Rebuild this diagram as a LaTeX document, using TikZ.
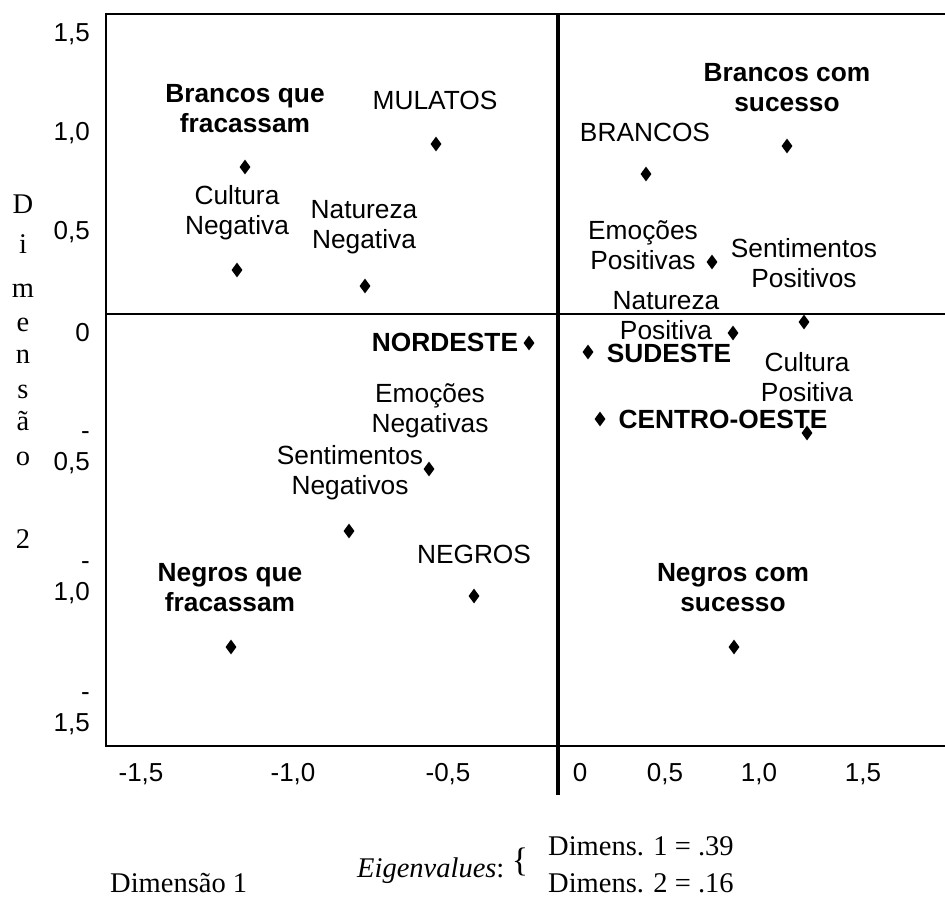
\documentclass[tikz,border=0pt]{standalone}
\usepackage{fontspec}
\setmainfont{Liberation Sans}
\newfontfamily\timesfont{Liberation Serif}
\usetikzlibrary{shapes.geometric}
\tikzset{
%Define style for the points of the map
ponto/.style={diamond, fill=black, inner sep=0pt, minimum width=11pt, minimum height=15pt},
%Define style for the labels of the points
rotulo/.style={align=center, inner sep=0pt, font=\fontsize{26.3}{30}\selectfont},
rotulo forte/.style={rotulo, font=\fontsize{26.3}{30}\selectfont\bfseries},
%Define style for the scales and the dimension names
escala/.style={inner sep=0pt, font=\fontsize{26}{31}\selectfont},
dimensao/.style={inner sep=0pt, font=\timesfont\fontsize{28.5}{34}\selectfont},
%Define style for different line styles
moldura/.style={line width=1.6pt},
eixo/.style={line width=4.5pt},
}
\begin{document}
\begin{tikzpicture}[x=1pt,y=-1pt]
    \useasboundingbox (0,0) rectangle (945,900);

    % frame
    \coordinate (no) at (106,14);
    \coordinate (ne) at (945,14);
    \coordinate (so) at (106,746);
    \coordinate (se) at (945,746);
    \draw[moldura] (ne) -- (no) -- (so) -- (se);

    % axis
    \coordinate (x0) at (106,314);
    \coordinate (x1) at (945,314);
    \coordinate (y0) at (558,14);
    \coordinate (y1) at (558,795);
    \draw[moldura] (x0) -- (x1);
    \draw[eixo] (y0) -- (y1);

    % scale of dimension 2
    \node[escala, anchor=base east] (d2a) at (90,41) {1,5};
    \node[escala, anchor=base east] (d2b) at (90,140) {1,0};
    \node[escala, anchor=base east] (d2c) at (90,239) {0,5};
    \node[escala, anchor=base east] (d2d) at (90,341) {0};
    \node[escala, anchor=east, align=right] (d2e) at (90,453) {-\\0,5};
    \node[escala, anchor=east, align=right] (d2f) at (90,583) {-\\1,0};
    \node[escala, anchor=east, align=right] (d2g) at (90,714) {-\\1,5};

    % scale of dimension 1
    \node[escala, anchor=base] (d1a) at (141,781) {-1,5};
    \node[escala, anchor=base] (d1b) at (293,781) {-1,0};
    \node[escala, anchor=base] (d1c) at (448,781) {-0,5};
    \node[escala, anchor=base] (d1d) at (580,781) {0};
    \node[escala, anchor=base] (d1e) at (665,781) {0,5};
    \node[escala, anchor=base] (d1f) at (759,781) {1,0};
    \node[escala, anchor=base] (d1g) at (863,781) {1,5};

    % name of dimension 2, one letter under the other
    \node[dimensao, anchor=base] (l1) at (23,213) {D};
    \node[dimensao, anchor=base] (l2) at (23,253) {i};
    \node[dimensao, anchor=base] (l3) at (23,297) {m};
    \node[dimensao, anchor=base] (l4) at (23,331) {e};
    \node[dimensao, anchor=base] (l5) at (23,363) {n};
    \node[dimensao, anchor=base] (l6) at (23,398) {s};
    \node[dimensao, anchor=base] (l7) at (23,430) {ã};
    \node[dimensao, anchor=base] (l8) at (23,465) {o};
    \node[dimensao, anchor=base] (l9) at (23,548) {2};

    % points of the upper left quadrant
    \node[ponto] (brfr) at (245,167) {};
    \node[rotulo forte] at (245,109) {Brancos que\\fracassam};
    \node[ponto] (mulatos) at (436,144) {};
    \node[rotulo] at (435,100) {MULATOS};
    \node[ponto] (cultneg) at (237,270) {};
    \node[rotulo] at (237,213) {Cultura\\Negativa};
    \node[ponto] (natneg) at (365,286) {};
    \node[rotulo] at (364,227) {Natureza\\Negativa};

    % points of the upper right quadrant
    \node[ponto] (brsuc) at (787,146) {};
    \node[rotulo forte] at (787,88) {Brancos com\\sucesso};
    \node[ponto] (brancos) at (646,174) {};
    \node[rotulo] at (645,132) {BRANCOS};
    \node[ponto] (emopos) at (712,262) {};
    \node[rotulo] at (643,245) {Emoções\\Positivas};
    \node[ponto] (sentpos) at (804,322) {};
    \node[rotulo] at (804,263) {Sentimentos\\Positivos};

    % points of the lower right quadrant
    \node[ponto] (natpos) at (733,333) {};
    \node[rotulo] at (666,316) {Natureza\\Positiva};
    \node[ponto] (sudeste) at (588,352) {};
    \node[rotulo forte] at (669,353) {SUDESTE};
    \node[ponto] (cultpos) at (807,433) {};
    \node[rotulo] at (807,377) {Cultura\\Positiva};
    \node[ponto] (centro) at (600,419) {};
    \node[rotulo forte] at (723,419) {CENTRO-OESTE};
    \node[ponto] (negsuc) at (734,647) {};
    \node[rotulo forte] at (733,588) {Negros com\\sucesso};

    % points of the lower left quadrant
    \node[ponto] (nordeste) at (529,343) {};
    \node[rotulo forte] at (445,342) {NORDESTE};
    \node[ponto] (emoneg) at (429,469) {};
    \node[rotulo] at (430,411) {Emoções\\Negativas};
    \node[ponto] (sentneg) at (349,531) {};
    \node[rotulo] at (350,473) {Sentimentos\\Negativos};
    \node[ponto] (negros) at (474,596) {};
    \node[rotulo] at (474,554) {NEGROS};
    \node[ponto] (negfr) at (231,647) {};
    \node[rotulo forte] at (230,588) {Negros que\\fracassam};

    % name of dimension 1 and eigenvalues
    \node[dimensao, anchor=base west] (dim1) at (110,892) {Dimensão 1};
    \node[dimensao, anchor=base west] (eigen) at (357,877) {\textit{Eigenvalues}:};
    \node[dimensao, anchor=base, font=\timesfont\fontsize{34}{34}\selectfont] (chave) at (520,871) {\{};
    \node[dimensao, anchor=base west] (ev1) at (548,855) {Dimens. 1 = .39};
    \node[dimensao, anchor=base west] (ev2) at (548,892) {Dimens. 2 = .16};
\end{tikzpicture}
\end{document}
